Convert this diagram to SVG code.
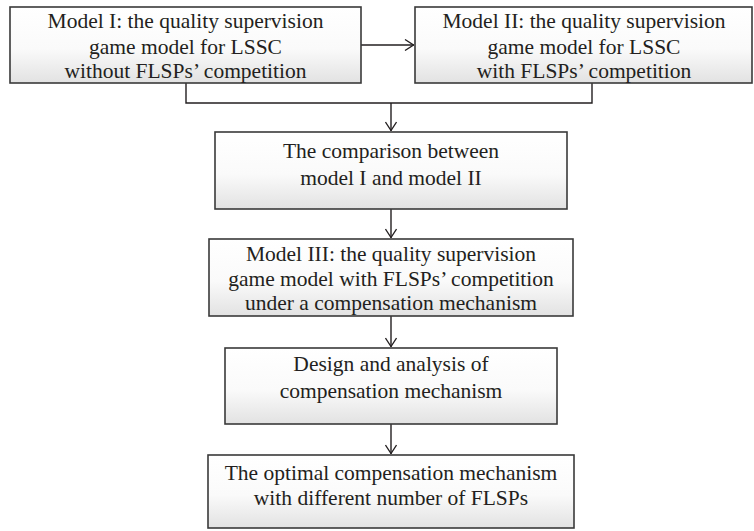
<svg xmlns="http://www.w3.org/2000/svg" width="754" height="531" viewBox="0 0 754 531">
<defs>
<linearGradient id="g" x1="0" y1="0" x2="0" y2="1">
<stop offset="0" stop-color="#ffffff"/>
<stop offset="0.55" stop-color="#fafafa"/>
<stop offset="1" stop-color="#e2e2e2"/>
</linearGradient>
<marker id="ah" viewBox="0 0 10 12" refX="10" refY="6" markerWidth="10" markerHeight="12" markerUnits="userSpaceOnUse" orient="auto">
<path d="M1,0.5 L9.5,6 L1,11.5" fill="none" stroke="#231f20" stroke-width="1.3"/>
</marker>
</defs>
<style>
.box{fill:url(#g);stroke:#3a3a3a;stroke-width:1.6}
.t{font-family:"Liberation Serif","Times New Roman",serif;font-size:21.5px;fill:#231f20;text-anchor:middle}
.c{fill:none;stroke:#231f20;stroke-width:1.4}
</style>
<rect width="754" height="531" fill="#ffffff"/>
<g id="connectors">
<polyline class="c" points="186,83 186,103 592,103 592,83"/>
<line class="c" x1="361" y1="45" x2="414" y2="45" marker-end="url(#ah)"/>
<line class="c" x1="391" y1="103" x2="391" y2="131" marker-end="url(#ah)"/>
<line class="c" x1="391" y1="209" x2="391" y2="238" marker-end="url(#ah)"/>
<line class="c" x1="391" y1="316" x2="391" y2="347" marker-end="url(#ah)"/>
<line class="c" x1="391" y1="424" x2="391" y2="454" marker-end="url(#ah)"/>
</g>
<g id="model1">
<rect class="box" x="10" y="7" width="351" height="76"/>
<text class="t" x="185.5" y="28">Model I: the quality supervision</text>
<text class="t" x="185.5" y="54">game model for LSSC</text>
<text class="t" x="185.5" y="78">without FLSPs’ competition</text>
</g>
<g id="model2">
<rect class="box" x="415" y="7" width="337" height="76"/>
<text class="t" x="584" y="28">Model II: the quality supervision</text>
<text class="t" x="584" y="54">game model for LSSC</text>
<text class="t" x="584" y="78">with FLSPs’ competition</text>
</g>
<g id="comparison">
<rect class="box" x="215" y="132" width="352" height="77"/>
<text class="t" x="391" y="158">The comparison between</text>
<text class="t" x="391" y="185">model I and model II</text>
</g>
<g id="model3">
<rect class="box" x="209" y="239" width="364" height="77"/>
<text class="t" x="391" y="261">Model III: the quality supervision</text>
<text class="t" x="391" y="285.5">game model with FLSPs’ competition</text>
<text class="t" x="391" y="310">under a compensation mechanism</text>
</g>
<g id="design">
<rect class="box" x="225" y="348" width="332" height="76"/>
<text class="t" x="391" y="371">Design and analysis of</text>
<text class="t" x="391" y="398">compensation mechanism</text>
</g>
<g id="optimal">
<rect class="box" x="208" y="455" width="366" height="73"/>
<text class="t" x="391" y="480">The optimal compensation mechanism</text>
<text class="t" x="391" y="505">with different number of FLSPs</text>
</g>
</svg>
